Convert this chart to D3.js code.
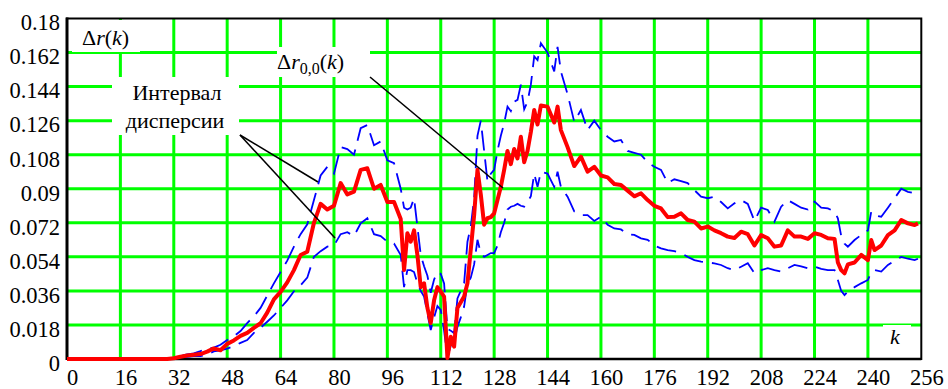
<!DOCTYPE html>
<html><head><meta charset="utf-8">
<script src="https://cdn.jsdelivr.net/npm/d3@7"></script>
<style>body{margin:0;background:#fff;overflow:hidden} text{font-family:"Liberation Serif","DejaVu Serif","Times New Roman",serif}</style>
</head><body><svg id="c" width="948" height="389"></svg>
<script>
// ---- data ----
const kVals = [0,4,8,12,16,20,24,28,30,32,34,36,38,40,42,44,46,48,50,52,54,56,58,60,62,64,66,68,70,72,74,76,78,80,82,84,86,88,90,92,94,96,98,
100,101,102,103,104,105,106,107,108,109,110,111,112,113,114,115,116,117,118,119,120,121,122,123,124,125,126,127,128,129,130,131,132,133,134,135,136,137,138,139,140,141,142,
144,146,147,148,150,152,154,156,158,160,162,164,166,168,170,172,174,176,178,180,182,184,186,188,190,192,194,196,198,200,202,204,206,208,210,212,214,216,218,220,222,224,226,228,230,
231,232,233,234,236,238,240,241,242,244,246,248,250,252,254,255];
const meanVals = [0,0,0,0,0,0,0,0,0,0.0004,0.0012,0.0018,0.0022,0.0026,0.0039,0.0056,0.0046,0.0080,0.0098,0.0122,0.0138,0.0165,0.0189,0.0245,0.0315,0.0355,0.0405,0.0470,0.0550,0.0567,0.0720,0.0820,0.0790,0.0810,0.0930,0.0870,0.0885,0.1000,0.1008,0.0900,0.0920,0.0830,0.0830,
0.0740,0.0470,0.0665,0.0620,0.0680,0.0550,0.0380,0.0400,0.0270,0.0190,0.0310,0.0380,0.0356,0.0330,0.0005,0.0118,0.0065,0.0270,0.0300,0.0330,0.0400,0.0580,0.0760,0.1000,0.0870,0.0710,0.0744,0.0750,0.0770,0.0840,0.0910,0.1000,0.1100,0.1030,0.1110,0.1060,0.1175,0.1040,0.1100,0.1200,0.1316,0.1240,0.1340,
0.1334,0.1250,0.1334,0.1210,0.1120,0.1020,0.1070,0.0990,0.1016,0.0970,0.0960,0.0925,0.0920,0.0890,0.0860,0.0876,0.0840,0.0810,0.0796,0.0750,0.0752,0.0770,0.0735,0.0726,0.0690,0.0700,0.0680,0.0665,0.0647,0.0640,0.0673,0.0660,0.0600,0.0655,0.0638,0.0594,0.0600,0.0680,0.0647,0.0647,0.0635,0.0665,0.0656,0.0638,0.0635,
0.0510,0.0470,0.0453,0.0500,0.0510,0.0550,0.0523,0.0629,0.0576,0.0600,0.0655,0.0680,0.0735,0.0717,0.0708,0.0717];
const upperVals = [0,0,0,0,0,0,0,0,0,0.0006,0.0016,0.0024,0.0030,0.0042,0.0056,0.0060,0.0075,0.0100,0.0120,0.0148,0.0190,0.0225,0.0270,0.0335,0.0400,0.0460,0.0520,0.0594,0.0660,0.0712,0.0840,0.0970,0.1016,0.0980,0.1120,0.1110,0.1080,0.1220,0.1237,0.1130,0.1150,0.1050,0.1035,
0.0900,0.0800,0.0790,0.0800,0.0850,0.0700,0.0550,0.0490,0.0440,0.0350,0.0420,0.0460,0.0450,0.0400,0.0160,0.0150,0.0136,0.0320,0.0360,0.0400,0.0620,0.0700,0.0850,0.1180,0.1260,0.1100,0.0940,0.0980,0.1000,0.1100,0.1180,0.1246,0.1334,0.1310,0.1360,0.1370,0.1450,0.1320,0.1360,0.1450,0.1600,0.1580,0.1669,
0.1620,0.1520,0.1650,0.1520,0.1400,0.1254,0.1316,0.1210,0.1260,0.1210,0.1175,0.1150,0.1158,0.1100,0.1090,0.1080,0.1040,0.1016,0.1000,0.0930,0.0950,0.0940,0.0930,0.0893,0.0858,0.0850,0.0858,0.0830,0.0796,0.0823,0.0840,0.0820,0.0730,0.0800,0.0788,0.0726,0.0805,0.0840,0.0820,0.0800,0.0790,0.0832,0.0800,0.0796,0.0780,
0.0744,0.0650,0.0610,0.0594,0.0629,0.0656,0.0680,0.0779,0.0760,0.0752,0.0800,0.0850,0.0900,0.0884,0.0876,0.0876];
const lowerVals = [0,0,0,0,0,0,0,0,0,0.0002,0.0008,0.0012,0.0015,0.0015,0.0025,0.0040,0.0045,0.0055,0.0068,0.0085,0.0100,0.0138,0.0165,0.0197,0.0230,0.0270,0.0310,0.0358,0.0390,0.0430,0.0540,0.0570,0.0594,0.0600,0.0660,0.0670,0.0650,0.0717,0.0744,0.0660,0.0650,0.0620,0.0610,
0.0550,0.0380,0.0470,0.0470,0.0460,0.0400,0.0360,0.0330,0.0240,0.0153,0.0220,0.0280,0.0260,0.0150,0.0010,0.0070,0.0090,0.0170,0.0220,0.0277,0.0400,0.0430,0.0500,0.0630,0.0560,0.0540,0.0550,0.0560,0.0560,0.0600,0.0670,0.0720,0.0790,0.0805,0.0810,0.0820,0.0810,0.0805,0.0830,0.0860,0.0980,0.0910,0.0990,
0.0980,0.0910,0.0990,0.0910,0.0858,0.0780,0.0761,0.0761,0.0730,0.0752,0.0710,0.0690,0.0685,0.0660,0.0656,0.0638,0.0630,0.0600,0.0585,0.0576,0.0570,0.0560,0.0540,0.0523,0.0515,0.0510,0.0506,0.0497,0.0480,0.0470,0.0488,0.0506,0.0453,0.0470,0.0480,0.0470,0.0462,0.0480,0.0497,0.0490,0.0480,0.0488,0.0476,0.0470,0.0470,
0.0418,0.0360,0.0338,0.0356,0.0380,0.0400,0.0418,0.0460,0.0470,0.0462,0.0497,0.0520,0.0540,0.0530,0.0523,0.0530];
const xTickVals = [0,16,32,48,64,80,96,112,128,144,160,176,192,208,224,240,256];
const xTickLabels = ["0","16","32","48","64","80","96","112","128","144","160","176","192","208","224","240","256"];
const yTickVals = [0,0.018,0.036,0.054,0.072,0.09,0.108,0.126,0.144,0.162,0.18];
const yTickLabels = ["0","0.018","0.036","0.054","0.072","0.09","0.108","0.126","0.144","0.162","0.18"];

// ---- layout ----
const L = 67, R = 921.3, T = 18.5, B = 359;
const FONT = "Liberation Serif, DejaVu Serif, serif";
const svg = d3.select("#c");
const x = d3.scaleLinear().domain([0,256]).range([L,R]);
const y = d3.scaleLinear().domain([0,0.18]).range([B,T]);

// grid
const gridG = svg.append("g");
gridG.selectAll("line.v").data(xTickVals.slice(1,-1)).join("line")
  .attr("x1",d=>x(d)).attr("x2",d=>x(d)).attr("y1",T).attr("y2",B)
  .attr("stroke","#00ff00").attr("stroke-width",3);
gridG.selectAll("line.h").data(yTickVals.slice(1,-1)).join("line")
  .attr("y1",d=>y(d)).attr("y2",d=>y(d)).attr("x1",L).attr("x2",R)
  .attr("stroke","#00ff00").attr("stroke-width",3);

// white label backgrounds
const boxes = [[72,20,68,32],[277,47,93,30],[112,77,127,58],[883,325,28,24]];
svg.selectAll("rect.bg").data(boxes).join("rect")
  .attr("x",d=>d[0]).attr("y",d=>d[1]).attr("width",d=>d[2]).attr("height",d=>d[3]).attr("fill","#fff");

// frame
svg.append("rect").attr("x",L).attr("y",T).attr("width",R-L).attr("height",B-T)
  .attr("fill","none").attr("stroke","#000").attr("stroke-width",2);
svg.append("line").attr("x1",L).attr("x2",L).attr("y1",T-1).attr("y2",B+1).attr("stroke","#000").attr("stroke-width",3);
svg.append("line").attr("x1",L).attr("x2",R).attr("y1",B).attr("y2",B).attr("stroke","#000").attr("stroke-width",2.5);

// axes (labels only)
const yAxis = d3.axisLeft(y).tickValues(yTickVals).tickSize(0)
  .tickFormat((d,i)=>yTickLabels[i]);
const gy = svg.append("g").attr("transform",`translate(${L-4},0)`).call(yAxis);
gy.attr("font-family",FONT).attr("font-size",22.5);
gy.select(".domain").remove();
gy.selectAll("text").style("font-family",FONT).attr("font-size",22.5).attr("fill","#000")
  .attr("dy","0.68em").attr("dx",0).attr("y",-4);

const xAxis = d3.axisBottom(x).tickValues(xTickVals).tickSize(0)
  .tickFormat((d,i)=>xTickLabels[i]);
const gx = svg.append("g").attr("transform",`translate(5,${B})`).call(xAxis);
gx.attr("font-family",FONT).attr("font-size",22.5);
gx.select(".domain").remove();
gx.selectAll("text").style("font-family",FONT).attr("font-size",22.5).attr("fill","#000")
  .attr("y",26).attr("dy",0);

// data
const pts = kVals.map((k,i)=>({k, m:meanVals[i], u:upperVals[i], l:lowerVals[i]}));
const lineOf = key => d3.line().x(d=>x(d.k)).y(d=>y(d[key]));
["u","l"].forEach(key=>{
  svg.append("path").datum(pts).attr("d",lineOf(key))
    .attr("fill","none").attr("stroke","#0000ff").attr("stroke-width",1.8)
    .attr("stroke-dasharray","20,9");
});
svg.append("path").datum(pts).attr("d",lineOf("m"))
  .attr("fill","none").attr("stroke","#ff0000").attr("stroke-width",4).attr("stroke-linejoin","round");

// leader lines
const leaders = [[240,135,318,182],[240,135,335,238],[370,77,503,188]];
svg.selectAll("line.ld").data(leaders).join("line")
  .attr("x1",d=>d[0]).attr("y1",d=>d[1]).attr("x2",d=>d[2]).attr("y2",d=>d[3])
  .attr("stroke","#000").attr("stroke-width",1.6);

// annotations
function rich(xp, yp, parts, anchor){
  const t = svg.append("text").attr("x",xp).attr("y",yp).style("font-family",FONT)
    .attr("font-size",22).attr("fill","#000").attr("text-anchor",anchor||"start");
  parts.forEach(p=>{
    const s = t.append("tspan").text(p.t);
    if(p.i) s.attr("font-style","italic");
    if(p.sub) s.attr("font-size",16).attr("dy",5);
    if(p.up) s.attr("dy",-5);
  });
  return t;
}
rich(82,45,[{t:"Δ"},{t:"r",i:1},{t:"("},{t:"k",i:1},{t:")"}]);
rich(277,69,[{t:"Δ"},{t:"r",i:1},{t:"0,0",sub:1},{t:"(",up:1},{t:"k",i:1},{t:")"}]);
svg.append("text").attr("x",177).attr("y",100).attr("text-anchor","middle")
  .style("font-family",FONT).attr("font-size",22).text("Интервал");
svg.append("text").attr("x",175).attr("y",128).attr("text-anchor","middle")
  .style("font-family",FONT).attr("font-size",22).text("дисперсии");
svg.append("text").attr("x",890).attr("y",344).style("font-family",FONT)
  .attr("font-size",22).attr("font-style","italic").text("k");
</script></body></html>
